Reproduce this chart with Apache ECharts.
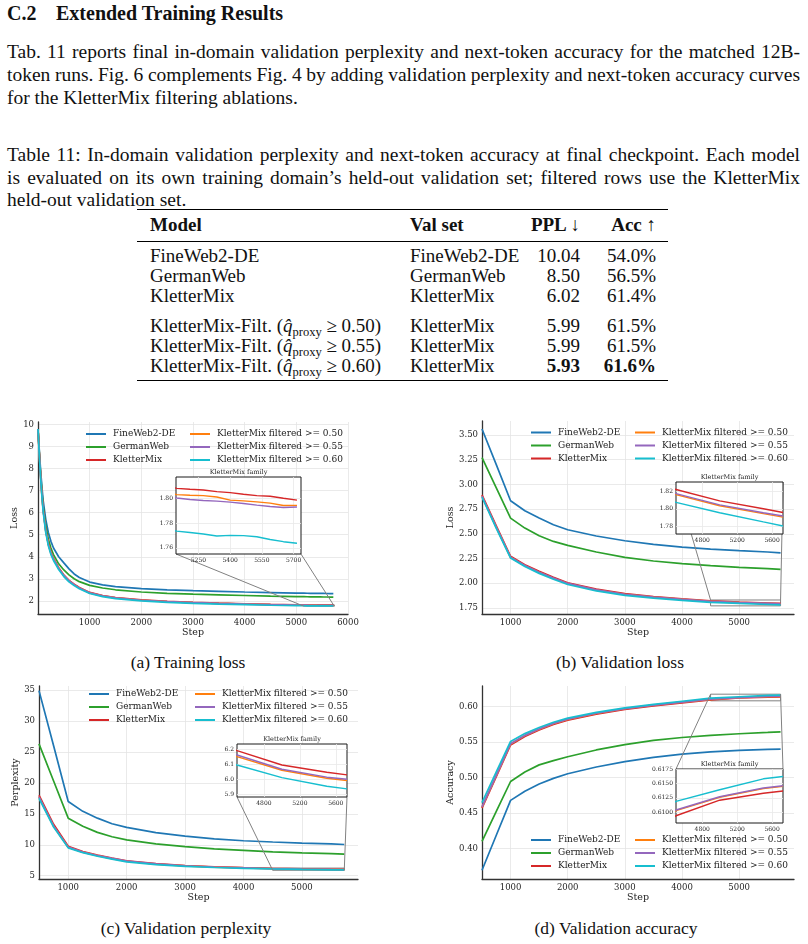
<!DOCTYPE html>
<html>
<head>
<meta charset="utf-8">
<script src="https://cdn.jsdelivr.net/npm/echarts@6.0.0/dist/echarts.min.js"></script>
<style>
  body { margin: 0; width: 808px; height: 944px; position: relative; background: #fff; color: #111;
         font-family: "Liberation Serif", "Times New Roman", serif; overflow: hidden; }
  .ln { position: absolute; left: 7px; width: 793px; font-size: 19.5px; line-height: 23px; }
  .j { text-align: justify; text-align-last: justify; word-spacing: -3px; }
  .cell { position: absolute; font-size: 19px; line-height: 20px; white-space: nowrap; }
  .rule { position: absolute; left: 137px; width: 531px; background: #000; }
  .cap { position: absolute; font-size: 17.5px; line-height: 22px; white-space: nowrap; transform: translateX(-50%); }
  sub { font-size: 12.5px; vertical-align: -4px; line-height: 0; }
  #chart { position: absolute; left: 0; top: 0; width: 808px; height: 944px; }
</style>
</head>
<body>
<div class="ln" style="top:2px;font-weight:bold;font-size:20px;">C.2<span style="position:absolute;left:49px;">Extended Training Results</span></div>
<div class="ln j" style="top:40px;">Tab. 11 reports final in-domain validation perplexity and next-token accuracy for the matched 12B-</div>
<div class="ln j" style="top:63px;">token runs. Fig. 6 complements Fig. 4 by adding validation perplexity and next-token accuracy curves</div>
<div class="ln" style="top:86px;">for the KletterMix filtering ablations.</div>
<div class="ln j" style="top:143px;">Table 11: In-domain validation perplexity and next-token accuracy at final checkpoint. Each model</div>
<div class="ln j" style="top:166px;">is evaluated on its own training domain’s held-out validation set; filtered rows use the KletterMix</div>
<div class="ln" style="top:188px;">held-out validation set.</div>
<div class="rule" style="top:209px;height:1.4px;"></div>
<div class="rule" style="top:240.5px;height:0.8px;"></div>
<div class="rule" style="top:379.5px;height:1.4px;"></div>
<div id="table"></div>
<div class="cap" style="left:188px;top:651px;">(a) Training loss</div>
<div class="cap" style="left:620px;top:651px;">(b) Validation loss</div>
<div class="cap" style="left:186px;top:917px;">(c) Validation perplexity</div>
<div class="cap" style="left:616px;top:917px;">(d) Validation accuracy</div>
<div id="chart"></div>

<script type="text/javascript">
// ---- table data ----
var tableModels = ['FineWeb2-DE', 'GermanWeb', 'KletterMix',
    'KletterMix-Filt. (<i>q&#770;</i><sub>proxy</sub> &ge; 0.50)',
    'KletterMix-Filt. (<i>q&#770;</i><sub>proxy</sub> &ge; 0.55)',
    'KletterMix-Filt. (<i>q&#770;</i><sub>proxy</sub> &ge; 0.60)'];
var tableValSets = ['FineWeb2-DE', 'GermanWeb', 'KletterMix', 'KletterMix', 'KletterMix', 'KletterMix'];
var tablePPL = ['10.04', '8.50', '6.02', '5.99', '5.99', '5.93'];
var tableAcc = ['54.0%', '56.5%', '61.4%', '61.5%', '61.5%', '61.6%'];
var tableRowY = [256, 276, 296, 326, 346, 366];

// ---- chart data ----
var modelNames = ['FineWeb2-DE', 'GermanWeb', 'KletterMix',
    'KletterMix filtered >= 0.50', 'KletterMix filtered >= 0.55', 'KletterMix filtered >= 0.60'];
var lineColors = ['#1f77b4', '#2ca02c', '#d62728', '#ff7f0e', '#9467bd', '#17becf'];

var trainSteps = [0, 25, 50, 75, 100, 150, 200, 250, 300, 400, 500, 600, 700, 800, 1000, 1250, 1500, 2000,
    2500, 3000, 3500, 4000, 4500, 5000, 5147, 5210, 5273, 5337, 5400, 5463, 5526, 5589, 5652, 5716];
var trainFineWeb = [9.8, 8.85, 7.95, 7.2, 6.55, 5.7, 5.1, 4.7, 4.4, 4.0, 3.72, 3.45, 3.22, 3.06, 2.85, 2.72, 2.64, 2.55,
    2.5, 2.46, 2.43, 2.4, 2.375, 2.35, 2.345, 2.343, 2.341, 2.339, 2.337, 2.335, 2.333, 2.331, 2.329, 2.327];
var trainGermanWeb = [9.8, 8.75, 7.8, 7.0, 6.3, 5.4, 4.8, 4.4, 4.1, 3.68, 3.4, 3.18, 3.0, 2.87, 2.7, 2.58, 2.5, 2.4,
    2.34, 2.3, 2.27, 2.24, 2.21, 2.19, 2.185, 2.183, 2.181, 2.179, 2.177, 2.175, 2.173, 2.171, 2.169, 2.167];
var trainKletter = [9.8, 8.7, 7.7, 6.85, 6.15, 5.2, 4.6, 4.2, 3.92, 3.5, 3.17, 2.93, 2.75, 2.6, 2.38, 2.24, 2.15, 2.04,
    1.97, 1.925, 1.89, 1.862, 1.835, 1.815, 1.8083, 1.8075, 1.807, 1.8056, 1.8048, 1.8035, 1.8024, 1.8019, 1.8003, 1.7987];
var trainF50 = [9.8, 8.68, 7.68, 6.82, 6.12, 5.17, 4.57, 4.17, 3.9, 3.48, 3.15, 2.91, 2.73, 2.58, 2.36, 2.22, 2.13, 2.025,
    1.96, 1.915, 1.882, 1.855, 1.829, 1.81, 1.8032, 1.8027, 1.8024, 1.8013, 1.7987, 1.7981, 1.7973, 1.7963, 1.7944, 1.7945];
var trainF55 = [9.8, 8.68, 7.68, 6.82, 6.12, 5.17, 4.57, 4.17, 3.9, 3.48, 3.15, 2.91, 2.73, 2.58, 2.36, 2.22, 2.13, 2.025,
    1.958, 1.913, 1.879, 1.852, 1.826, 1.807, 1.8005, 1.7992, 1.7984, 1.7979, 1.7971, 1.796, 1.7947, 1.7935, 1.7928, 1.7931];
var trainF60 = [9.8, 8.6, 7.6, 6.75, 6.05, 5.1, 4.5, 4.1, 3.83, 3.42, 3.1, 2.86, 2.69, 2.55, 2.33, 2.19, 2.1, 1.995,
    1.93, 1.885, 1.85, 1.822, 1.797, 1.779, 1.7736, 1.7725, 1.7712, 1.7696, 1.7701, 1.7699, 1.769, 1.7668, 1.765, 1.7637];

var valSteps = [500, 750, 1000, 1250, 1500, 1750, 2000, 2500, 3000, 3500, 4000, 4500, 5000, 5500, 5725];
var lossFineWeb = [3.56, 3.2, 2.834, 2.733, 2.659, 2.592, 2.541, 2.478, 2.43, 2.393, 2.366, 2.346, 2.329, 2.316, 2.307];
var lossGermanWeb = [3.271, 2.965, 2.659, 2.558, 2.48, 2.423, 2.383, 2.316, 2.262, 2.225, 2.198, 2.178, 2.161, 2.148, 2.14];
var lossKletter = [2.894, 2.58, 2.272, 2.188, 2.12, 2.06, 2.005, 1.94, 1.895, 1.866, 1.842, 1.822, 1.809, 1.8, 1.7958];
var lossF50 = [2.88, 2.566, 2.262, 2.178, 2.11, 2.05, 1.996, 1.931, 1.887, 1.859, 1.836, 1.8162, 1.8035, 1.7945, 1.7905];
var lossF55 = [2.882, 2.568, 2.264, 2.18, 2.112, 2.052, 1.998, 1.933, 1.889, 1.861, 1.838, 1.8174, 1.8045, 1.7955, 1.7917];
var lossF60 = [2.87, 2.555, 2.255, 2.17, 2.1, 2.04, 1.987, 1.922, 1.878, 1.849, 1.826, 1.8073, 1.7955, 1.785, 1.7804];

var pplFineWeb = [34.9, 26.0, 17.0, 15.4, 14.3, 13.4, 12.8, 11.95, 11.4, 10.95, 10.65, 10.45, 10.27, 10.13, 10.04];
var pplGermanWeb = [26.3, 20.3, 14.3, 13.0, 12.0, 11.3, 10.8, 10.15, 9.7, 9.35, 9.1, 8.85, 8.7, 8.57, 8.5];
var pplKletter = [18.0, 13.3, 9.75, 8.9, 8.35, 7.85, 7.42, 6.95, 6.65, 6.45, 6.31, 6.189, 6.093, 6.045, 6.027];
var pplF50 = [17.7, 13.0, 9.6, 8.8, 8.25, 7.77, 7.34, 6.88, 6.6, 6.4, 6.27, 6.149, 6.058, 6.005, 5.99];
var pplF55 = [17.75, 13.05, 9.62, 8.82, 8.27, 7.79, 7.36, 6.9, 6.61, 6.41, 6.28, 6.16, 6.065, 6.012, 5.998];
var pplF60 = [17.5, 12.85, 9.5, 8.72, 8.15, 7.68, 7.25, 6.8, 6.52, 6.33, 6.2, 6.093, 6.009, 5.952, 5.934];

var accFineWeb = [0.3697, 0.419, 0.468, 0.481, 0.491, 0.499, 0.5055, 0.515, 0.5225, 0.5285, 0.533, 0.5362, 0.5385, 0.5398, 0.5403];
var accGermanWeb = [0.4104, 0.4525, 0.4946, 0.508, 0.518, 0.524, 0.5295, 0.539, 0.5465, 0.5525, 0.5565, 0.5595, 0.5618, 0.5636, 0.5645];
var accKletter = [0.4572, 0.5016, 0.546, 0.558, 0.567, 0.575, 0.581, 0.5895, 0.596, 0.601, 0.6052, 0.6094, 0.6121, 0.6133, 0.6137];
var accF50 = [0.4585, 0.503, 0.5475, 0.5593, 0.5682, 0.576, 0.582, 0.5905, 0.597, 0.602, 0.6062, 0.6103, 0.6126, 0.6141, 0.6145];
var accF55 = [0.4588, 0.5033, 0.5478, 0.5595, 0.5684, 0.5762, 0.5822, 0.5907, 0.5972, 0.6022, 0.6063, 0.6104, 0.6127, 0.6142, 0.6146];
var accF60 = [0.465, 0.508, 0.551, 0.562, 0.5705, 0.578, 0.5838, 0.5918, 0.5982, 0.6032, 0.6075, 0.6119, 0.6139, 0.6158, 0.6162];

// tick labels
var trainXTicks = [1000, 2000, 3000, 4000, 5000, 6000];
var trainYTicks = [2, 3, 4, 5, 6, 7, 8, 9, 10];
var valXTicks = [1000, 2000, 3000, 4000, 5000];
var lossYTicks = [1.75, 2.0, 2.25, 2.5, 2.75, 3.0, 3.25, 3.5];
var pplYTicks = [5, 10, 15, 20, 25, 30, 35];
var accYTicks = [0.40, 0.45, 0.50, 0.55, 0.60];
var trainInsetXTicks = [5250, 5400, 5550, 5700];
var trainInsetYTicks = [1.76, 1.78, 1.80];
var valInsetXTicks = [4800, 5200, 5600];
var lossInsetYTicks = [1.78, 1.80, 1.82];
var pplInsetYTicks = [5.9, 6.0, 6.1, 6.2];
var accInsetYTicks = [0.61, 0.6125, 0.615, 0.6175];

// ---- table ----
var tbl = document.getElementById('table');
function cell(html, y, x, right, bold) {
    var d = document.createElement('div');
    d.className = 'cell';
    d.innerHTML = html;
    d.style.top = (y - 10) + 'px';
    if (right) d.style.right = (808 - x) + 'px'; else d.style.left = x + 'px';
    if (bold) d.style.fontWeight = 'bold';
    tbl.appendChild(d);
}
cell('Model', 225, 150, false, true);
cell('Val set', 225, 410, false, true);
cell('PPL &darr;', 225, 580, true, true);
cell('Acc &uarr;', 225, 656, true, true);
tableModels.forEach(function (m, i) {
    var last = i === tableModels.length - 1;
    cell(m, tableRowY[i], 150);
    cell(tableValSets[i], tableRowY[i], 410);
    cell(tablePPL[i], tableRowY[i], 580, true, last);
    cell(tableAcc[i], tableRowY[i], 656, true, last);
});

// ---- charts ----
var FONT = 'DejaVu Serif';
var panels = [
    { x: trainSteps, ys: [trainFineWeb, trainGermanWeb, trainKletter, trainF50, trainF55, trainF60],
      main: { left: 38, top: 422, width: 310, height: 192 }, xr: [0, 6000], yr: [1.4, 10.12],
      xt: trainXTicks, yt: trainYTicks, yDec: 0, yName: 'Loss', yGap: 16,
      inset: { left: 176, top: 477, width: 125, height: 77 }, ixr: [5144, 5735], iyr: [1.755, 1.8175],
      ixt: trainInsetXTicks, iyt: trainInsetYTicks, iyDec: 2, corner: 'low',
      legend: [86, 190, 428.5] },
    { x: valSteps, ys: [lossFineWeb, lossGermanWeb, lossKletter, lossF50, lossF55, lossF60],
      main: { left: 482, top: 421, width: 312, height: 193 }, xr: [500, 5960], yr: [1.689, 3.641],
      xt: valXTicks, yt: lossYTicks, yDec: 2, yName: 'Loss', yGap: 25,
      inset: { left: 676, top: 482, width: 107, height: 52 }, ixr: [4500, 5725], iyr: [1.7712, 1.8306],
      ixt: valInsetXTicks, iyt: lossInsetYTicks, iyDec: 2, corner: 'high',
      legend: [531, 635, 427] },
    { x: valSteps, ys: [pplFineWeb, pplGermanWeb, pplKletter, pplF50, pplF55, pplF60],
      main: { left: 39, top: 686, width: 319, height: 193 }, xr: [500, 5960], yr: [4.47, 35.65],
      xt: valXTicks, yt: pplYTicks, yDec: 0, yName: 'Perplexity', yGap: 18,
      inset: { left: 237, top: 744, width: 110, height: 53 }, ixr: [4500, 5725], iyr: [5.88, 6.233],
      ixt: valInsetXTicks, iyt: pplInsetYTicks, iyDec: 1, corner: 'low',
      legend: [89, 195, 688.5] },
    { x: valSteps, ys: [accFineWeb, accGermanWeb, accKletter, accF50, accF55, accF60],
      main: { left: 482, top: 686, width: 312, height: 193 }, xr: [500, 5960], yr: [0.3574, 0.629],
      xt: valXTicks, yt: accYTicks, yDec: 2, yName: 'Accuracy', yGap: 24,
      inset: { left: 676, top: 769, width: 107, height: 54 }, ixr: [4500, 5725], iyr: [0.60815, 0.6175],
      ixt: valInsetXTicks, iyt: accInsetYTicks, iyDec: 4, corner: 'high',
      legend: [531, 635, 834.5] }
];

function axis(gi, range, ticks, dec, inset, extra) {
    var a = {
        type: 'value', gridIndex: gi, min: range[0], max: range[1], z: inset ? 11 : 0,
        axisLine: { show: !inset, onZero: false, lineStyle: { color: '#333', width: 1.3 } },
        axisTick: { show: false, customValues: ticks },
        axisLabel: {
            customValues: ticks, fontFamily: FONT, fontSize: inset ? 6 : 8.5, color: '#262626',
            margin: inset ? 3 : 4,
            formatter: function (v) { return v.toFixed(dec); }
        },
        splitLine: { show: true, lineStyle: { color: inset ? '#e8e8e8' : '#e5e5e5', width: 0.8 } }
    };
    for (var k in extra) a[k] = extra[k];
    return a;
}

var grids = [], xAxes = [], yAxes = [], series = [], legends = [];
panels.forEach(function (p, k) {
    var gm = 2 * k, gi = 2 * k + 1;
    grids.push({ left: p.main.left, top: p.main.top, width: p.main.width, height: p.main.height });
    grids.push({ left: p.inset.left, top: p.inset.top, width: p.inset.width, height: p.inset.height,
        show: true, backgroundColor: '#fff', borderColor: '#1a1a1a', borderWidth: 1, z: 10 });
    xAxes.push(axis(gm, p.xr, p.xt, 0, false, { name: 'Step', nameLocation: 'middle', nameGap: 14,
        nameTextStyle: { fontFamily: FONT, fontSize: 9.5, color: '#222' } }));
    xAxes.push(axis(gi, p.ixr, p.ixt, 0, true, {}));
    yAxes.push(axis(gm, p.yr, p.yt, p.yDec, false, { name: p.yName, nameLocation: 'middle', nameGap: p.yGap,
        nameTextStyle: { fontFamily: FONT, fontSize: 9.5, color: '#222' } }));
    yAxes.push(axis(gi, p.iyr, p.iyt, p.iyDec, true, {}));
    p.ys.forEach(function (vals, m) {
        var data = p.x.map(function (s, i) { return [s, vals[i]]; });
        series.push({ type: 'line', name: modelNames[m], xAxisIndex: gm, yAxisIndex: gm, data: data,
            symbol: 'none', color: lineColors[m], lineStyle: { width: 1.7 }, z: 2, animation: false });
        if (m >= 2) {
            series.push({ type: 'line', name: modelNames[m], xAxisIndex: gi, yAxisIndex: gi, data: data,
                symbol: 'none', color: lineColors[m], lineStyle: { width: 1.4 }, z: 12, clip: true, animation: false });
        }
    });
    // zoomed region on the main axes
    series.push({ type: 'line', xAxisIndex: gm, yAxisIndex: gm, data: [], z: 6, animation: false,
        markArea: { silent: true, itemStyle: { color: 'rgba(0,0,0,0)', borderColor: '#808080', borderWidth: 1 },
            data: [[{ coord: [p.ixr[0], p.iyr[0]] }, { coord: [p.ixr[1], p.iyr[1]] }]] } });
    [0, 1].forEach(function (c) {
        legends.push({ left: p.legend[c], top: p.legend[2], orient: 'vertical', padding: 0,
            data: modelNames.slice(3 * c, 3 * c + 3), icon: 'rect', itemWidth: 20, itemHeight: 2, itemGap: 2,
            selectedMode: false,
            textStyle: { fontFamily: FONT, fontSize: 9, color: '#222', lineHeight: 11, padding: [0, 0, 0, 2] } });
    });
});

var chart = echarts.init(document.getElementById('chart'), null, { renderer: 'canvas' });
chart.setOption({
    animation: false,
    grid: grids, xAxis: xAxes, yAxis: yAxes, series: series, legend: legends
});

// connector lines and inset titles
var elements = [];
panels.forEach(function (p, k) {
    var gm = 2 * k, gi = 2 * k + 1;
    var yc = p.corner === 'low' ? p.iyr[0] : p.iyr[1];
    [p.ixr[0], p.ixr[1]].forEach(function (xc) {
        var a = chart.convertToPixel({ gridIndex: gi }, [xc, yc]);
        var b = chart.convertToPixel({ gridIndex: gm }, [xc, yc]);
        elements.push({ type: 'line', z: 8, silent: true,
            shape: { x1: a[0], y1: a[1], x2: b[0], y2: b[1] },
            style: { stroke: '#808080', lineWidth: 1 } });
    });
    var tl = chart.convertToPixel({ gridIndex: gi }, [p.ixr[0], p.iyr[1]]);
    var tr = chart.convertToPixel({ gridIndex: gi }, [p.ixr[1], p.iyr[1]]);
    elements.push({ type: 'text', z: 12, silent: true, x: (tl[0] + tr[0]) / 2, y: tl[1] - 1,
        style: { text: 'KletterMix family', fontFamily: FONT, fontSize: 6.5, fill: '#222',
            align: 'center', verticalAlign: 'bottom' } });
});
chart.setOption({ graphic: { elements: elements } });
</script>
</body>
</html>
